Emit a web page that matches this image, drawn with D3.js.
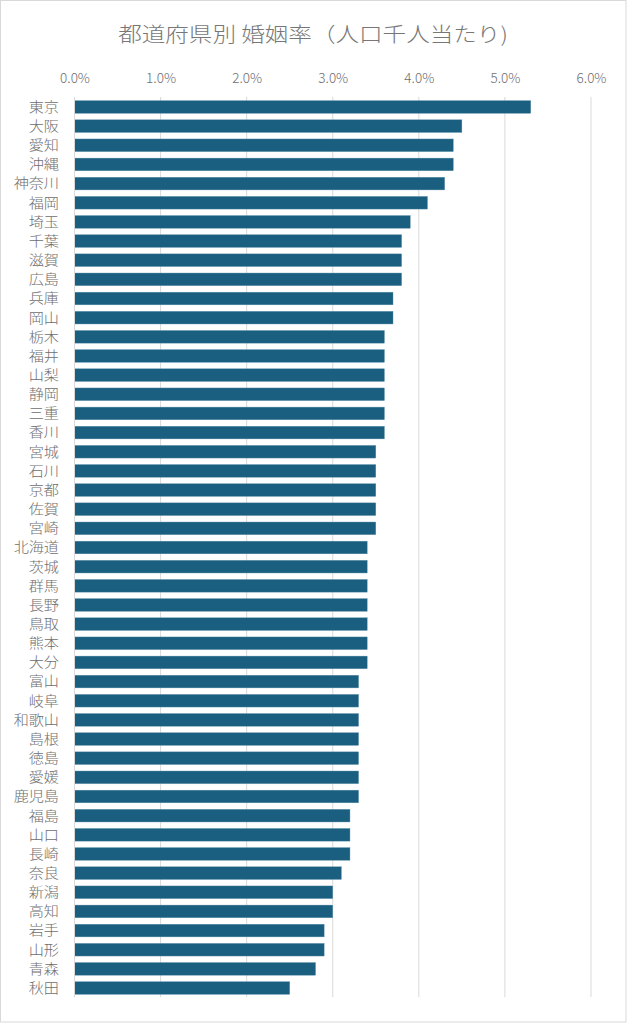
<!DOCTYPE html>
<html>
<head>
<meta charset="utf-8">
<script src="https://cdn.jsdelivr.net/npm/d3@7"></script>
<style>
html,body{margin:0;padding:0;background:#fff;}
svg{display:block;}
text{font-family:"Noto Sans CJK JP","Noto Sans",sans-serif;}
</style>
</head>
<body>
<svg id="chart" width="627" height="1024"></svg>
<script>
const title = "都道府県別 婚姻率（人口千人当たり)";
const prefectures = ["東京","大阪","愛知","沖縄","神奈川","福岡","埼玉","千葉","滋賀","広島","兵庫","岡山","栃木","福井","山梨","静岡","三重","香川","宮城","石川","京都","佐賀","宮崎","北海道","茨城","群馬","長野","鳥取","熊本","大分","富山","岐阜","和歌山","島根","徳島","愛媛","鹿児島","福島","山口","長崎","奈良","新潟","高知","岩手","山形","青森","秋田"];
const rates = [5.3,4.5,4.4,4.4,4.3,4.1,3.9,3.8,3.8,3.8,3.7,3.7,3.6,3.6,3.6,3.6,3.6,3.6,3.5,3.5,3.5,3.5,3.5,3.4,3.4,3.4,3.4,3.4,3.4,3.4,3.3,3.3,3.3,3.3,3.3,3.3,3.3,3.2,3.2,3.2,3.1,3.0,3.0,2.9,2.9,2.8,2.5];
const tickValues = [0,1,2,3,4,5,6];

const svg = d3.select("#chart");
const W = 627, H = 1024;
const mLeft = 74.5, mRight = 591, mTop = 97.4, mBottom = 997.6;
const textColor = "#6e6e6e";
const barColor = "#1a5f80";

svg.append("rect").attr("x",0.5).attr("y",0.5).attr("width",W-1.5).attr("height",H-2.5)
  .attr("fill","#fff").attr("stroke","#d9d9d9").attr("stroke-width",1);

const x = d3.scaleLinear().domain([0,6]).range([mLeft,mRight]);
const y = d3.scaleBand().domain(prefectures).range([mTop,mBottom]).paddingInner(0.34).paddingOuter(0.17);

// gridlines
svg.append("g").selectAll("line").data(tickValues).join("line")
  .attr("x1",d=>x(d)).attr("x2",d=>x(d)).attr("y1",mTop-0.5).attr("y2",mBottom-0.5)
  .attr("stroke","#d9d9d9").attr("stroke-width",1);

// top axis labels
const xAxis = d3.axisTop(x).tickValues(tickValues).tickSize(0).tickPadding(0)
  .tickFormat(d=>d.toFixed(1)+"%");
const gx = svg.append("g").attr("transform",`translate(0,83)`).call(xAxis);
gx.select(".domain").remove();
gx.selectAll("text").attr("fill",textColor).attr("font-size",13.5).attr("font-weight",300)
  .attr("font-family","'Noto Sans CJK JP','Noto Sans',sans-serif").attr("dy",0);

// bars
svg.append("g").selectAll("rect").data(prefectures).join("rect")
  .attr("x",x(0)).attr("y",d=>y(d))
  .attr("width",(d,i)=>x(rates[i])-x(0))
  .attr("height",y.bandwidth())
  .attr("fill",barColor).attr("stroke","#5b8fa8").attr("stroke-width",0.4);

// left axis line
svg.append("line").attr("x1",mLeft).attr("x2",mLeft).attr("y1",mTop-0.5).attr("y2",mBottom-0.5)
  .attr("stroke","#d9d9d9").attr("stroke-width",1);

// category labels
const yAxis = d3.axisLeft(y).tickSize(0).tickPadding(0);
const gy = svg.append("g").attr("transform",`translate(59,0)`).call(yAxis);
gy.select(".domain").remove();
gy.selectAll("text").attr("fill",textColor).attr("font-size",13.5).attr("font-weight",300)
  .attr("font-family","'Noto Sans CJK JP','Noto Sans',sans-serif")
  .attr("dy","0.36em")
  .attr("transform","scale(1.12,1)")
  .attr("x",0);

// title
svg.append("text").attr("transform","translate(313,42) scale(1.15,1)")
  .attr("text-anchor","middle").attr("fill","#777777").attr("font-size",20.5).attr("font-weight",300)
  .text(title);
</script>
</body>
</html>
